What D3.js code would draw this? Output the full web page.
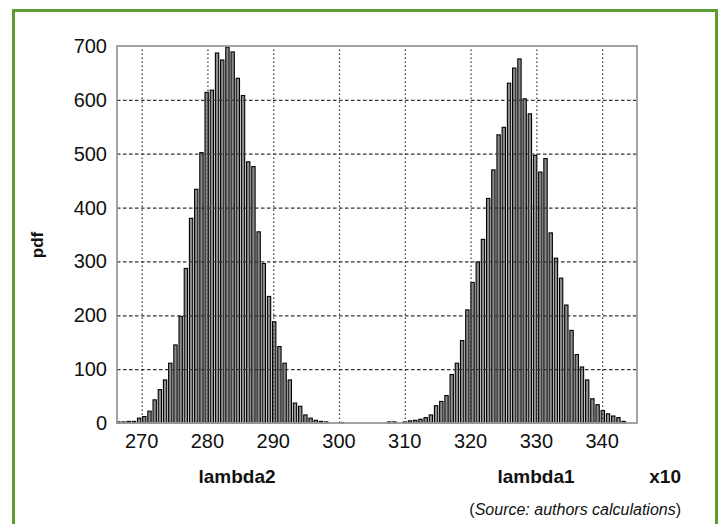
<!DOCTYPE html>
<html>
<head>
<meta charset="utf-8">
<script src="https://cdn.jsdelivr.net/npm/d3@7/dist/d3.min.js"></script>
<style>
  body { margin: 0; background: #fff; }
  svg text { font-family: "Liberation Sans", Arial, Helvetica, sans-serif; fill: #111; }
</style>
</head>
<body>
<div class="chart"></div>
<script>
// histogram of lambda2 (left) and lambda1 (right), bin centres start + i*step
var lambda2Start = 266.45, lambda2Step = 0.790;
var lambda2Counts = [2, 2, 3, 3, 9, 12, 22, 43, 62, 80,
    111, 145, 198, 287, 380, 434, 502, 614, 618, 687,
    674, 698, 689, 640, 608, 485, 476, 355, 296, 235,
    188, 142, 111, 80, 37, 31, 15, 9, 5, 3,
    2, 0, 0, 1];

var lambda1Start = 307.63, lambda1Step = 0.792;
var lambda1Counts = [2, 2, 0, 2, 4, 5, 7, 10, 15, 32,
    40, 51, 90, 111, 153, 210, 261, 299, 341, 417,
    470, 535, 549, 631, 659, 676, 602, 574, 497, 466,
    491, 353, 306, 269, 219, 172, 127, 104, 80, 45,
    34, 23, 17, 13, 10, 3];

var xTicks = [270, 280, 290, 300, 310, 320, 330, 340];
var yTicks = [0, 100, 200, 300, 400, 500, 600, 700];

var W = 720, H = 524;
var plotLeft = 117, plotRight = 637, plotTop = 46, plotBottom = 423;

function bins(start, step, counts) {
    return counts.map(function (c, i) {
        return {x: start + i * step, step: step, v: c};
    });
}
var data = bins(lambda2Start, lambda2Step, lambda2Counts)
    .concat(bins(lambda1Start, lambda1Step, lambda1Counts));

var svg = d3.select('.chart').append('svg')
    .attr('width', W)
    .attr('height', H);

// green frame
svg.append('rect')
    .attr('x', 13.5).attr('y', 10.5)
    .attr('width', 703).attr('height', 530)
    .attr('fill', 'none')
    .attr('stroke', '#5b9d2e')
    .attr('stroke-width', 3);

var x = d3.scaleLinear().domain([266.25, 345.3]).range([plotLeft, plotRight]);
var y = d3.scaleLinear().domain([0, 700]).range([plotBottom, plotTop]);

// bars
svg.append('g').selectAll('rect')
    .data(data.filter(function (d) { return d.v > 0; }))
    .enter()
    .append('rect')
    .attr('x', function (d) { return x(d.x) - (x(d.step) - x(0)) * 0.32; })
    .attr('width', function (d) { return (x(d.step) - x(0)) * 0.64; })
    .attr('y', function (d) { return y(d.v); })
    .attr('height', function (d) { return y(0) - y(d.v); })
    .attr('fill', '#8c8c8c')
    .attr('stroke', '#000')
    .attr('stroke-width', 1.1);

// grid
svg.append('g')
    .attr('transform', 'translate(0,' + plotBottom + ')')
    .call(d3.axisBottom(x).tickValues(xTicks).tickSize(-(plotBottom - plotTop)).tickFormat(''))
    .call(function (g) {
        g.select('.domain').remove();
        g.selectAll('line').attr('stroke', '#333').attr('stroke-width', 1.2)
            .attr('stroke-dasharray', '1.5,2.5');
    });
svg.append('g')
    .attr('transform', 'translate(' + plotLeft + ',0)')
    .call(d3.axisLeft(y).tickValues(yTicks.slice(1, -1)).tickSize(-(plotRight - plotLeft)).tickFormat(''))
    .call(function (g) {
        g.select('.domain').remove();
        g.selectAll('line').attr('stroke', '#333').attr('stroke-width', 1.2)
            .attr('stroke-dasharray', '3.5,2.5');
    });

// plot box
svg.append('rect')
    .attr('x', plotLeft).attr('y', plotTop)
    .attr('width', plotRight - plotLeft).attr('height', plotBottom - plotTop)
    .attr('fill', 'none')
    .attr('stroke', '#9a9a9a')
    .attr('stroke-width', 1.8);

// tick labels
svg.append('g').selectAll('text')
    .data(xTicks)
    .enter()
    .append('text')
    .attr('x', function (d) { return x(d); })
    .attr('y', 448)
    .attr('text-anchor', 'middle')
    .style('font-size', '20px')
    .text(function (d) { return d; });

svg.append('g').selectAll('text')
    .data(yTicks)
    .enter()
    .append('text')
    .attr('x', 107)
    .attr('y', function (d) { return y(d) + 7; })
    .attr('text-anchor', 'end')
    .style('font-size', '20px')
    .text(function (d) { return d; });

// axis titles
svg.append('text')
    .attr('transform', 'translate(43,245) rotate(-90)')
    .attr('text-anchor', 'middle')
    .style('font-size', '17px').style('font-weight', 'bold')
    .text('pdf');

svg.append('text').attr('x', 237).attr('y', 483).attr('text-anchor', 'middle')
    .style('font-size', '19px').style('font-weight', 'bold').text('lambda2');
svg.append('text').attr('x', 536).attr('y', 483).attr('text-anchor', 'middle')
    .style('font-size', '19px').style('font-weight', 'bold').text('lambda1');
svg.append('text').attr('x', 681).attr('y', 483).attr('text-anchor', 'end')
    .style('font-size', '19px').style('font-weight', 'bold').text('x10');

var src = svg.append('text').attr('x', 681).attr('y', 515).attr('text-anchor', 'end')
    .style('font-size', '16px');
src.append('tspan').text('(');
src.append('tspan').style('font-style', 'italic').text('Source: authors calculations');
src.append('tspan').text(')');
</script>
</body>
</html>
